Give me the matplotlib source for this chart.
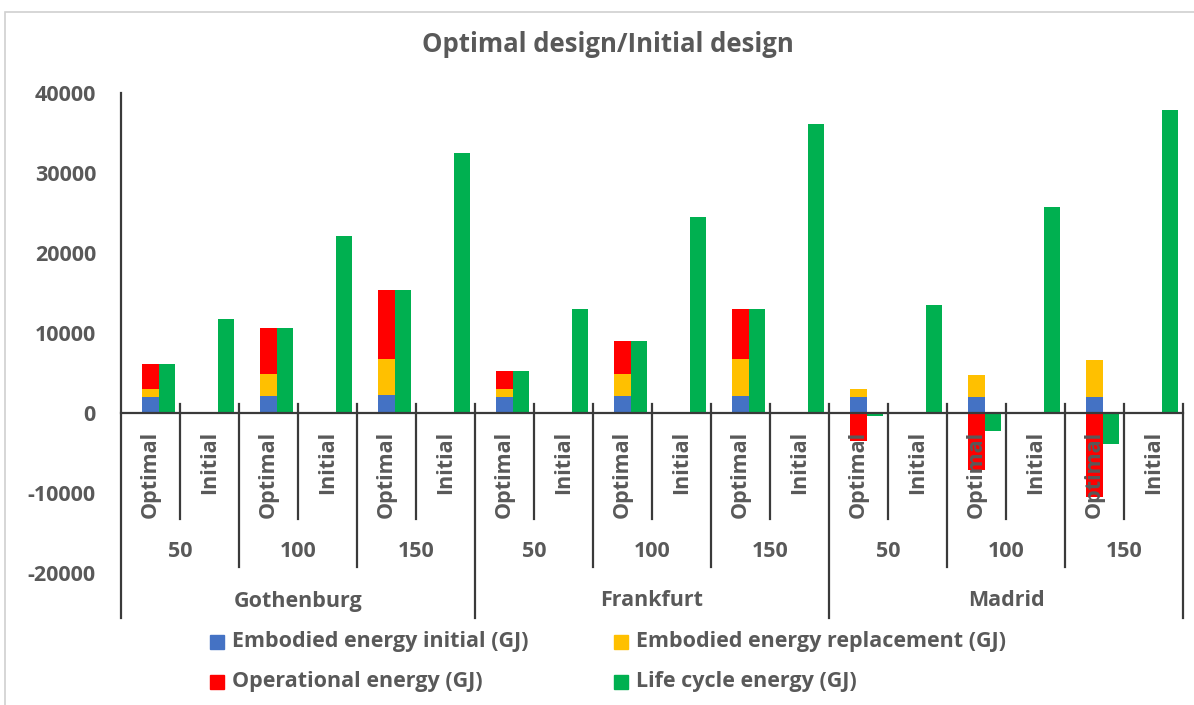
import numpy as np
import matplotlib
matplotlib.use("Agg")
import matplotlib.pyplot as plt
from matplotlib.patches import Rectangle

# --- data -------------------------------------------------------------
cities = ["Gothenburg", "Frankfurt", "Madrid"]
sizes = ["50", "100", "150"]
designs = ["Optimal", "Initial"]

# one value per (city, size, design) column, in plotting order
embodied_initial = [2000, 0, 2150, 0, 2270, 0,
                    1980, 0, 2150, 0, 2150, 0,
                    2000, 0, 2020, 0, 2020, 0]
embodied_replacement = [1040, 0, 2750, 0, 4540, 0,
                        1040, 0, 2750, 0, 4540, 0,
                        1040, 0, 2790, 0, 4580, 0]
operational = [3040, 0, 5700, 0, 8600, 0,
               2250, 0, 4120, 0, 6330, 0,
               -3440, 0, -7100, 0, -10520, 0]
life_cycle = [6080, 11700, 10600, 22150, 15410, 32560,
              5270, 12940, 9020, 24520, 13020, 36100,
              -400, 13440, -2290, 25690, -3920, 37850]

series_names = ["Embodied energy initial (GJ)", "Embodied energy replacement (GJ)",
                "Operational energy (GJ)", "Life cycle energy (GJ)"]
colors = ["#4472C4", "#FFC000", "#FF0000", "#00B050"]

TXT = "#595959"
LINE = "#3a3a3a"
FS = 15.5
plt.rcParams["font.family"] = ["Open Sans", "DejaVu Sans"]
plt.rcParams["font.weight"] = "bold"
plt.rcParams["axes.unicode_minus"] = False

W, H = 1194, 705
fig = plt.figure(figsize=(W / 100, H / 100), dpi=100)
ax = fig.add_axes([121 / W, 1 - 573 / H, 1062 / W, 480 / H])

n = len(life_cycle)
x = np.arange(n)
bw = 0.28

# stacked column: positives pile up from zero, negatives hang below zero
pos_base = np.zeros(n)
neg_base = np.zeros(n)
for vals, col in zip([embodied_initial, embodied_replacement, operational], colors[:3]):
    v = np.array(vals, dtype=float)
    bottom = np.where(v >= 0, pos_base, neg_base)
    ax.bar(x, v, bw, bottom=bottom, color=col, zorder=2, linewidth=0)
    pos_base += np.clip(v, 0, None)
    neg_base += np.clip(v, None, 0)

ax.bar(x + bw, life_cycle, bw, color=colors[3], zorder=2, linewidth=0)

ax.set_xlim(-0.5, n - 0.5)
ax.set_ylim(-20000, 40000)
ax.set_yticks(np.arange(-20000, 40001, 10000))
ax.set_xticks([])
ax.tick_params(axis="y", length=0, pad=18, labelsize=FS, labelcolor=TXT)
for s in ax.spines.values():
    s.set_visible(False)

# axis lines and the multi-level category grid below zero
ymin_ext = {1: -13200, 2: -19300, 6: -25600}
ax.plot([-0.5, n - 0.5], [0, 0], color=LINE, lw=1.6, zorder=3, clip_on=False)
ax.plot([-0.5, -0.5], [40000, -25600], color=LINE, lw=1.6, zorder=3, clip_on=False)
for b in range(1, n + 1):
    if b % 6 == 0:
        low = ymin_ext[6]
    elif b % 2 == 0:
        low = ymin_ext[2]
    else:
        low = ymin_ext[1]
    ax.plot([b - 0.5, b - 0.5], [1100, low], color=LINE, lw=1.6, zorder=3, clip_on=False)

labels = [d for c in cities for s in sizes for d in designs]
for i, lab in enumerate(labels):
    ax.text(i, -2200, lab, rotation=90, ha="center", va="top", color=TXT,
            fontsize=FS, zorder=4)
for j in range(len(cities) * len(sizes)):
    ax.text(2 * j + 0.5, -17300, sizes[j % 3], ha="center", va="center",
            color=TXT, fontsize=FS, zorder=4)
for k, city in enumerate(cities):
    ax.text(6 * k + 2.5, -23500, city, ha="center", va="center",
            color=TXT, fontsize=FS, zorder=4)

fig.text(608 / W, 1 - 45 / H, "Optimal design/Initial design", ha="center",
         va="center", color=TXT, fontsize=18.5)

# legend, two rows by two columns
leg_pos = [(210, 642), (614, 642), (210, 682), (614, 682)]
for (px, py), name, col in zip(leg_pos, series_names, colors):
    fig.add_artist(Rectangle((px / W, 1 - (py + 7) / H), 14 / W, 14 / H,
                             transform=fig.transFigure, color=col))
    fig.text((px + 22) / W, 1 - py / H, name, ha="left", va="center",
             color=TXT, fontsize=FS)

# chart frame
fig.add_artist(Rectangle((5 / W, -0.1), 1.2, 1.1 - 12 / H, transform=fig.transFigure,
                         fill=False, edgecolor="#d0d0d0", lw=1.2))

fig.savefig("out.png", dpi=100)
